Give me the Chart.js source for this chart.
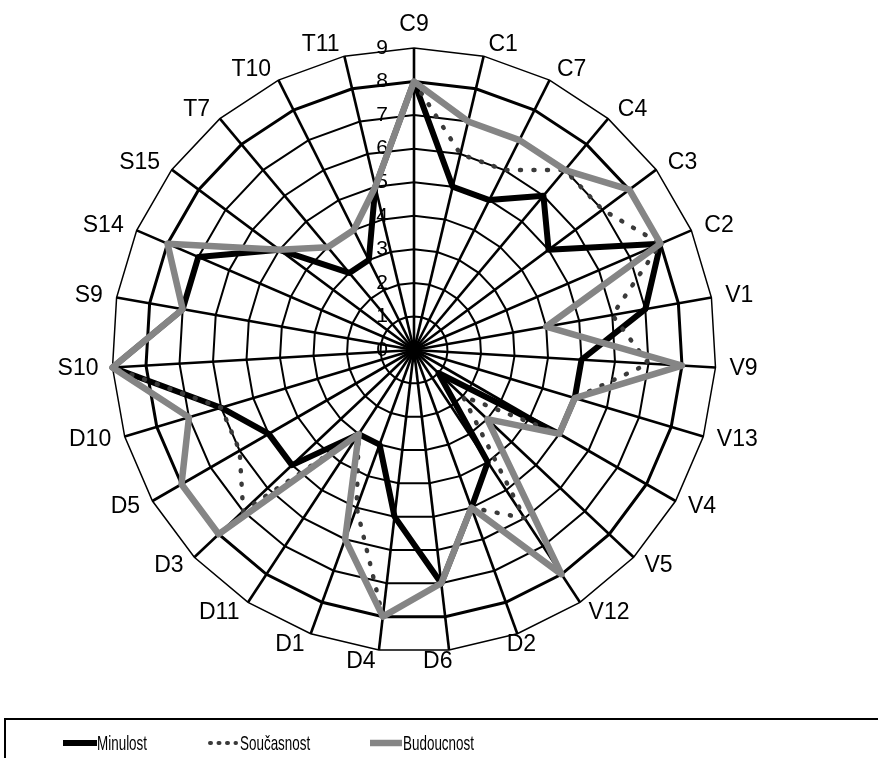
<!DOCTYPE html>
<html><head><meta charset="utf-8">
<script src="https://cdn.jsdelivr.net/npm/chart.js@4.4.1/dist/chart.umd.min.js"></script>
<style>html,body{margin:0;padding:0;background:#fff;}#wrap{width:878px;height:758px;position:relative;}</style>
</head><body><div id="wrap"><canvas id="c" width="878" height="758"></canvas></div>
<script>
const categories = ['C9','C1','C7','C4','C3','C2','V1','V9','V13','V4','V5','V12','D2','D6','D4','D1','D11','D3','D5','D10','S10','S9','S14','S15','T7','T10','T11'];
const minulost   = [8,5,5,6,5,8,7,5,5,5,1,4,5,7,5,3,3,5,5,6,9,7,7,5,3,3,5];
const soucasnost = [8,6,6,7,7,8,6,7,5,5,2,6,5,7,8,5,3,7,6,6,9,7,8,5,4,4,5];
const budoucnost = [8,7,7,7,8,8,4,8,5,5,3,8,5,7,8,6,3,8,8,7,9,7,8,5,4,4,5];
const tickValues = [0,1,2,3,4,5,6,7,8,9];
const seriesNames = ['Minulost','Současnost','Budoucnost'];

const FONT = '"Liberation Sans", Arial, sans-serif';

const labelsPlugin = {
  id: 'customLabels',
  beforeDatasetsDraw(chart) {
    const s = chart.scales.r, ctx = chart.ctx;
    ctx.save();
    ctx.fillStyle = '#000';
    ctx.font = '21px ' + FONT;
    ctx.textAlign = 'right';
    ctx.textBaseline = 'middle';
    s.ticks.forEach(t => {
      const d = s.getDistanceFromCenterForValue(t.value);
      ctx.fillText(t.label, s.xCenter - 26, s.yCenter - d);
    });
    // point labels
    ctx.font = '23px ' + FONT;
    const n = chart.data.labels.length;
    chart.data.labels.forEach((lab, i) => {
      const p = s.getPointPosition(i, s.drawingArea + 12);
      const deg = i * 360 / n;
      if (i === 0) {
        ctx.textAlign = 'center'; ctx.textBaseline = 'alphabetic';
        ctx.fillText(lab, p.x, p.y - 5);
      } else if (deg > 150 && deg < 170) {
        ctx.textAlign = 'center'; ctx.textBaseline = 'middle';
        ctx.fillText(lab, p.x, p.y);
      } else {
        const leftSide = deg < 170;
        ctx.textAlign = leftSide ? 'left' : 'right';
        ctx.textBaseline = 'middle';
        ctx.fillText(lab, p.x + (leftSide ? 2 : 2 * (deg < 180 ? 1 : -1)), p.y);
      }
    });
    ctx.restore();
  },
  afterDraw(chart) {
    const ctx = chart.ctx;
    ctx.save();
    ctx.strokeStyle = '#000'; ctx.lineWidth = 2;
    ctx.strokeRect(5, 719, 900, 80);
    const items = [
      {x0: 63, x1: 97, tx: 97, dash: [], cap: 'butt'},
      {x0: 210, x1: 236, tx: 240, dash: [1, 7.5], cap: 'round'},
      {x0: 370, x1: 402, tx: 403, dash: [], cap: 'butt'}
    ];
    const y = 743;
    chart.data.datasets.forEach((ds, k) => {
      const it = items[k];
      ctx.beginPath();
      ctx.strokeStyle = ds.borderColor;
      ctx.lineWidth = k === 1 ? 4 : ds.borderWidth;
      ctx.lineCap = it.cap;
      ctx.setLineDash(it.dash);
      ctx.moveTo(it.x0, y); ctx.lineTo(it.x1, y); ctx.stroke();
      ctx.setLineDash([]);
      ctx.save();
      ctx.translate(it.tx, y);
      ctx.scale(0.64, 1);
      ctx.fillStyle = '#000';
      ctx.font = '21px ' + FONT;
      ctx.textAlign = 'left'; ctx.textBaseline = 'middle';
      ctx.fillText(ds.label, 0, 1);
      ctx.restore();
    });
    ctx.restore();
  }
};

new Chart(document.getElementById('c'), {
  type: 'radar',
  data: {
    labels: categories,
    datasets: [
      {label: seriesNames[0], data: minulost, borderColor: '#000', backgroundColor: 'rgba(0,0,0,0)', borderWidth: 6, pointRadius: 0, fill: false, borderJoinStyle: 'round', order: 3},
      {label: seriesNames[1], data: soucasnost, borderColor: '#3a3a3a', backgroundColor: 'rgba(0,0,0,0)', borderWidth: 4.5, borderDash: [1, 12.5], borderCapStyle: 'round', pointRadius: 0, fill: false, order: 2},
      {label: seriesNames[2], data: budoucnost, borderColor: '#858585', backgroundColor: 'rgba(0,0,0,0)', borderWidth: 6.5, pointRadius: 0, fill: false, borderJoinStyle: 'round', order: 1}
    ]
  },
  options: {
    responsive: false,
    animation: false,
    devicePixelRatio: 1,
    layout: {padding: {left: 112, top: 48, right: 162, bottom: 106}},
    plugins: {legend: {display: false}, tooltip: {enabled: false}},
    elements: {line: {tension: 0}},
    scales: {
      r: {
        min: 0, max: 9,
        afterBuildTicks: s => { s.ticks = tickValues.map(v => ({value: v})); },
        ticks: {display: false, callback: v => String(v)},
        pointLabels: {display: false},
        grid: {color: '#000', lineWidth: ctx => (ctx.tick && ctx.tick.value === 8) ? 3 : (ctx.tick && ctx.tick.value === 9 ? 1.5 : 2)},
        angleLines: {color: '#000', lineWidth: 2.6}
      }
    }
  },
  plugins: [labelsPlugin]
});
</script></body></html>
